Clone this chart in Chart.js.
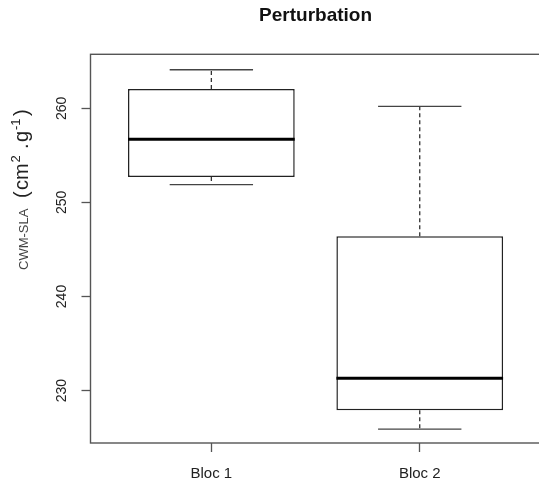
<!DOCTYPE html>
<html>
<head>
<meta charset="utf-8">
<script src="https://cdn.jsdelivr.net/npm/chart.js@4.4.0/dist/chart.umd.min.js"></script>
<style>
  body { margin: 0; background: #fff; overflow: hidden; }
</style>
</head>
<body>
<canvas id="chartBox" width="550" height="488"></canvas>
<script>
// boxplot data - perturbation
const categories = ['Bloc 1', 'Bloc 2'];
const whiskerLow = [251.9, 225.9];
const q1 = [252.7, 227.9];
const median = [256.7, 231.3];
const q3 = [262.05, 246.4];
const whiskerHigh = [264.1, 260.2];
const yTicks = [230, 240, 250, 260];

const FONT = '"Liberation Sans", Arial, sans-serif';
const TEXT = '#222';
const LINE = '#555';

const boxData = categories.map((c, i) => ({ x: i + 1, y: [q1[i], q3[i]] }));

const drawLine = (ctx, x1, y1, x2, y2) => {
  ctx.beginPath();
  ctx.moveTo(x1, y1);
  ctx.lineTo(x2, y2);
  ctx.stroke();
};

// whiskers, caps, medians, frame, y labels
const boxExtras = {
  id: 'boxExtras',
  afterDatasetsDraw(chart) {
    const { ctx, scales: { x, y } } = chart;
    const bars = chart.getDatasetMeta(0).data;
    ctx.save();
    categories.forEach((c, i) => {
      const cx = x.getPixelForValue(i + 1);
      const half = bars[i].width / 2;
      const yLow = y.getPixelForValue(whiskerLow[i]);
      const yHigh = y.getPixelForValue(whiskerHigh[i]);

      ctx.strokeStyle = '#333';
      ctx.lineWidth = 1.3;
      ctx.setLineDash([4, 3]);
      drawLine(ctx, cx, y.getPixelForValue(q3[i]), cx, yHigh);
      drawLine(ctx, cx, y.getPixelForValue(q1[i]), cx, yLow);
      ctx.setLineDash([]);

      ctx.strokeStyle = '#444';
      drawLine(ctx, cx - half / 2, yHigh, cx + half / 2, yHigh);
      drawLine(ctx, cx - half / 2, yLow, cx + half / 2, yLow);

      ctx.strokeStyle = '#000';
      ctx.lineWidth = 3;
      const ym = y.getPixelForValue(median[i]);
      drawLine(ctx, cx - half, ym, cx + half, ym);
    });
    ctx.restore();
  },
  afterDraw(chart) {
    const { ctx, chartArea: a, scales: { y } } = chart;
    ctx.save();
    ctx.strokeStyle = LINE;
    ctx.lineWidth = 1.4;
    ctx.strokeRect(a.left, a.top, a.right - a.left, a.bottom - a.top);

    // y tick labels, rotated like R
    ctx.fillStyle = TEXT;
    ctx.font = '14px ' + FONT;
    ctx.textAlign = 'center';
    ctx.textBaseline = 'middle';
    yTicks.forEach(v => {
      ctx.save();
      ctx.translate(62, y.getPixelForValue(v));
      ctx.rotate(-Math.PI / 2);
      ctx.fillText(String(v), 0, 0);
      ctx.restore();
    });

    // y title, pieces placed along the rotated baseline
    const parts = [
      { t: '(', at: 72, size: 20, rise: 0 },
      { t: 'cm', at: 80, size: 20, rise: 0 },
      { t: '2', at: 107.5, size: 13, rise: 8 },
      { t: '.', at: 121, size: 20, rise: 0 },
      { t: 'g', at: 128, size: 20, rise: 0 },
      { t: '-1', at: 140, size: 13, rise: 8 },
      { t: ')', at: 154, size: 20, rise: 0 },
    ];
    ctx.translate(27.5, 270);
    ctx.rotate(-Math.PI / 2);
    ctx.textAlign = 'left';
    ctx.textBaseline = 'alphabetic';
    ctx.fillStyle = '#444';
    ctx.font = '13px ' + FONT;
    ctx.fillText('CWM-SLA', 0, 0);
    ctx.fillStyle = TEXT;
    parts.forEach(p => {
      ctx.font = p.size + 'px ' + FONT;
      ctx.fillText(p.t, p.at, -p.rise);
    });
    ctx.restore();
  }
};

const ctx = document.getElementById('chartBox');
const chartBox = new Chart(ctx, {
  type: 'bar',
  data: {
    datasets: [{
      label: 'Perturbation',
      data: boxData,
      backgroundColor: '#fff',
      borderColor: '#222',
      borderWidth: 1.5,
      borderSkipped: false,
      barPercentage: 0.8,
      categoryPercentage: 1,
    }]
  },
  options: {
    responsive: false,
    animation: false,
    layout: {
      padding: { left: 0, right: 9.4, top: 0, bottom: 0 }
    },
    scales: {
      x: {
        type: 'linear',
        min: 0.42,
        max: 2.58,
        offset: false,
        afterBuildTicks: s => { s.ticks = categories.map((c, i) => ({ value: i + 1 })); },
        afterFit: s => { s.height = 45; },
        ticks: {
          callback: v => categories[v - 1],
          color: TEXT,
          font: { family: FONT, size: 15 },
          padding: 13,
          maxRotation: 0,
        },
        grid: {
          offset: false,
          drawOnChartArea: false,
          drawTicks: true,
          tickLength: 9,
          color: LINE,
          tickWidth: 1.3,
        },
        border: { display: false },
      },
      y: {
        min: 224.43,
        max: 265.74,
        beginAtZero: false,
        afterBuildTicks: s => { s.ticks = yTicks.map(v => ({ value: v })); },
        afterFit: s => { s.width = 90.5; },
        ticks: { display: false },
        grid: {
          drawOnChartArea: false,
          drawTicks: true,
          tickLength: 9,
          color: LINE,
          tickWidth: 1.3,
        },
        border: { display: false },
      }
    },
    plugins: {
      legend: { display: false },
      tooltip: { enabled: false },
      title: {
        display: true,
        text: 'Perturbation',
        fullSize: false,
        color: '#111',
        font: { family: FONT, size: 19, weight: 'bold' },
        padding: { top: 4, bottom: 27.5 },
      }
    }
  },
  plugins: [boxExtras]
});
</script>
</body>
</html>
